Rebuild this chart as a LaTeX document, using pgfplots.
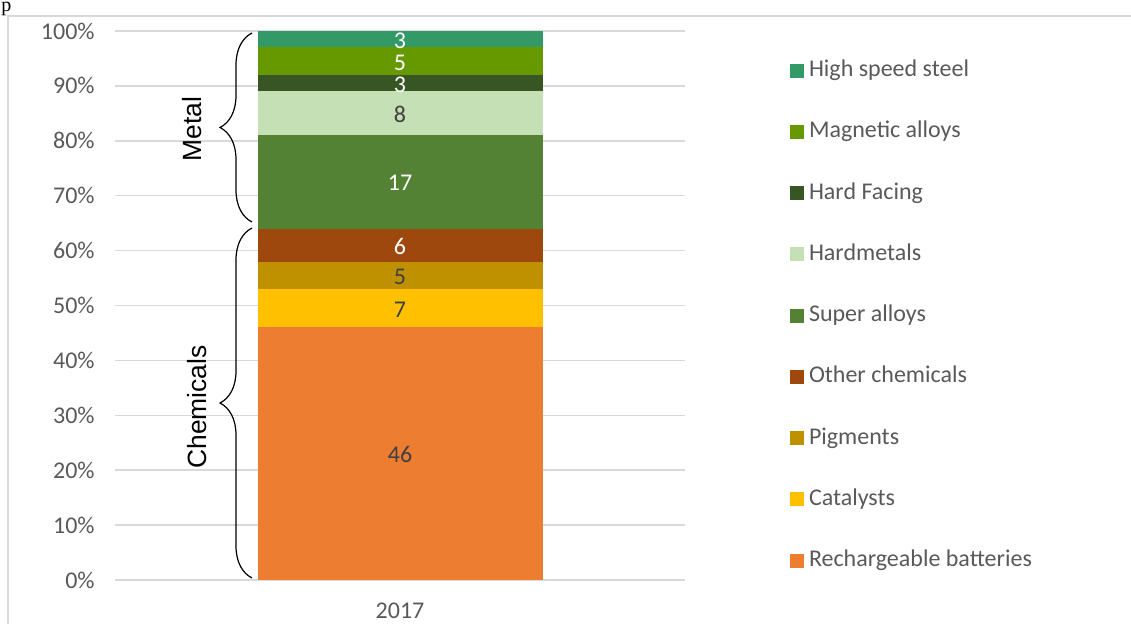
\documentclass[border=0pt]{standalone}
\usepackage{fontspec}
\setmainfont{Carlito}
\newfontfamily\arialfont{Liberation Sans}
\newfontfamily\timesfont{Liberation Serif}
\usepackage{pgfplots}
\pgfplotsset{compat=1.18}
\usetikzlibrary{decorations.pathreplacing}

\definecolor{gridgray}{HTML}{D9D9D9}
\definecolor{tickgray}{HTML}{595959}
\definecolor{darklbl}{HTML}{404040}
\definecolor{cBatt}{HTML}{ED7D31}
\definecolor{cCat}{HTML}{FFC000}
\definecolor{cPig}{HTML}{BF9000}
\definecolor{cOther}{HTML}{9E480E}
\definecolor{cSuper}{HTML}{548235}
\definecolor{cHardm}{HTML}{C5E0B4}
\definecolor{cHardF}{HTML}{375623}
\definecolor{cMag}{HTML}{669900}
\definecolor{cHSS}{HTML}{339966}

% segment: fill colour, label colour (labels sit in the middle of each segment)
\pgfplotsset{seg/.style 2 args={fill=#1, draw=none,
    nodes near coords,
    every node near coord/.style={anchor=center, yshift=-0.6bp,
      text=#2, inner sep=0pt, font=\fontsize{12bp}{14bp}\selectfont}}}

\begin{document}
\begin{tikzpicture}
\path[use as bounding box] (0,0) rectangle (565.5bp,312bp);
\draw[gridgray, line width=0.75bp] (4bp,-1bp) -- (4bp,304bp) -- (567bp,304bp);
\node[anchor=base west, inner sep=0pt, font=\timesfont\fontsize{10bp}{12bp}\selectfont] at (0.5bp,306bp) {p};

\begin{axis}[
    at={(57.5bp,22bp)}, anchor=south west,
    scale only axis, width=285bp, height=274.5bp,
    ybar stacked, bar width=142.5bp,
    xmin=-1, xmax=1, ymin=0, ymax=100,
    xtick={0}, xticklabels={2017},
    ytick={0,10,...,100},
    yticklabels={0\%,10\%,20\%,30\%,40\%,50\%,60\%,70\%,80\%,90\%,100\%},
    ymajorgrids, major grid style={gridgray, line width=0.75bp},
    axis line style={draw=none}, major tick length=0pt,
    tick label style={font=\fontsize{12bp}{14bp}\selectfont, text=tickgray, inner sep=0pt},
    yticklabel style={xshift=-10bp},
    xticklabel style={yshift=-11.25bp},
    /pgf/number format/assume math mode=true,
    reverse legend,
    legend style={at={(axis description cs:1.1842,0.9499)}, anchor=north west,
      draw=none, fill=none, inner sep=0pt, outer sep=0pt,
      row sep=18.625bp, column sep=2.5bp,
      nodes={inner sep=0pt, text height=9bp, text depth=3bp, text=tickgray,
        font=\fontsize{12bp}{14bp}\selectfont}},
    legend cell align=left,
    every axis plot post/.append style={
      legend image code/.code={\fill[##1] (0bp,-3.5bp) rectangle (7bp,3.5bp);}},
]
\addplot[seg={cBatt}{darklbl}] coordinates {(0,46)};
\addplot[seg={cCat}{darklbl}] coordinates {(0,7)};
\addplot[seg={cPig}{darklbl}] coordinates {(0,5)};
\addplot[seg={cOther}{white}] coordinates {(0,6)};
\addplot[seg={cSuper}{white}] coordinates {(0,17)};
\addplot[seg={cHardm}{darklbl}] coordinates {(0,8)};
\addplot[seg={cHardF}{white}] coordinates {(0,3)};
\addplot[seg={cMag}{white}] coordinates {(0,5)};
\addplot[seg={cHSS}{white}] coordinates {(0,3)};
\legend{Rechargeable batteries, Catalysts, Pigments, Other chemicals, Super alloys,
  Hardmetals, Hard Facing, Magnetic alloys, High speed steel}
\end{axis}

% group braces and their names
\draw[decorate, decoration={brace, amplitude=16bp}, line width=0.6bp]
  (126bp,201bp) -- (126bp,295.5bp);
\draw[decorate, decoration={brace, amplitude=16bp}, line width=0.6bp]
  (126bp,23bp) -- (126bp,198bp);
\node[rotate=90, anchor=base, inner sep=0pt, font=\arialfont\fontsize{13.2bp}{15bp}\selectfont]
  at (100.5bp,247.5bp) {Metal};
\node[rotate=90, anchor=base, inner sep=0pt, font=\arialfont\fontsize{13.2bp}{15bp}\selectfont]
  at (103bp,108.5bp) {Chemicals};
\end{tikzpicture}
\end{document}
